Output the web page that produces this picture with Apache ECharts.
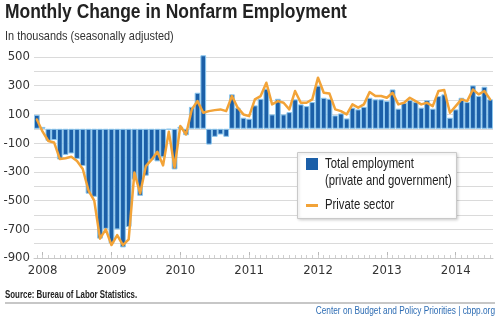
<!DOCTYPE html>
<html>
<head>
<meta charset="utf-8">
<script src="https://cdn.jsdelivr.net/npm/echarts@6/dist/echarts.min.js"></script>
<style>
  html, body { margin: 0; padding: 0; background: #fff; }
  #chart { width: 500px; height: 322px; }
</style>
</head>
<body>
<div id="chart"></div>
<script>
// Monthly change in nonfarm payrolls, thousands, seasonally adjusted (Dec 2007 - Jul 2014)
const firstYear = 2007;
const firstMonth = 12;

const totalEmployment = [
  97,
  13, -84, -79, -214, -182, -172, -210, -259, -452, -474, -765, -697,
  -798, -701, -826, -684, -354, -467, -327, -216, -227, -198, -6, -283,
  15, -45, 153, 251, 512, -110, -56, -40, -56, 240, 147, 77,
  70, 163, 209, 279, 100, 209, 100, 116, 205, 170, 158, 186,
  300, 216, 209, 93, 107, 72, 147, 135, 153, 216, 205, 205,
  193, 274, 140, 181, 200, 186, 147, 200, 140, 228, 240, 77,
  135, 216, 186, 302, 228, 293, 205
];

const privateSector = [
  65,
  -20, -85, -95, -210, -205, -195, -225, -280, -430, -500, -765, -700,
  -810, -740, -810, -770, -305, -450, -260, -215, -160, -255, -20, -270,
  19, -40, 135, 193, 112, 123, 130, 135, 123, 228, 147, 100,
  88, 205, 228, 321, 170, 193, 181, 135, 263, 181, 181, 205,
  356, 251, 245, 135, 123, 100, 170, 147, 170, 256, 228, 228,
  216, 251, 170, 181, 216, 193, 170, 181, 158, 263, 270, 112,
  158, 205, 193, 274, 240, 263, 205
];

const yTicks = { min: -900, max: 500, step: 100 };

// month categories "YYYY-MM" matching the value arrays
const months = totalEmployment.map((_, k) => {
  const m0 = firstMonth - 1 + k;
  const y = firstYear + Math.floor(m0 / 12);
  const m = (m0 % 12) + 1;
  return y + '-' + String(m).padStart(2, '0');
});

const AXIS_FONT = "'Liberation Sans Narrow','DejaVu Sans Condensed',sans-serif";
const TEXT_FONT = "'Liberation Sans',Arial,sans-serif";
const BAR_BLUE = '#1b5fa8';
const LINE_ORANGE = '#f2a338';
const isJanuary = (i, v) => String(v).endsWith('-01');

// narrow text helper: regular sans face squeezed horizontally
function narrowText(x, y, text, font, sx, extra) {
  return Object.assign({
    type: 'text', x: x, y: y, scaleX: sx, scaleY: 1,
    style: Object.assign({ text: text, font: font, fill: '#222' }, (extra && extra.style) || {})
  }, extra && extra.z ? { z: extra.z } : {});
}

const chart = echarts.init(document.getElementById('chart'), null, { renderer: 'canvas' });

chart.setOption({
  animation: false,
  backgroundColor: '#fff',
  grid: { left: 34, right: 7, top: 57, bottom: 64, containLabel: false },
  xAxis: [
    {
      type: 'category',
      data: months,
      position: 'bottom',
      boundaryGap: true,
      axisLine: { onZero: false, lineStyle: { color: '#c8c8c8', width: 1 } },
      axisTick: { show: true, inside: true, alignWithLabel: true, length: 6,
                  interval: isJanuary, lineStyle: { color: '#b8b8b8' } },
      axisLabel: { interval: isJanuary, formatter: v => v.slice(0, 4), margin: 6,
                   fontFamily: AXIS_FONT, fontSize: 13, color: '#333' },
      splitLine: { show: false }
    },
    {
      type: 'category',
      data: months,
      position: 'bottom',
      boundaryGap: true,
      axisLine: { show: false, onZero: false },
      axisTick: { show: true, inside: true, alignWithLabel: true, length: 3,
                  interval: 0, lineStyle: { color: '#cfcfcf' } },
      axisLabel: { show: false },
      splitLine: { show: false }
    }
  ],
  yAxis: {
    type: 'value',
    min: yTicks.min,
    max: yTicks.max,
    interval: yTicks.step,
    axisLine: { show: false },
    axisTick: { show: false },
    axisLabel: {
      margin: 4,
      fontFamily: AXIS_FONT, fontSize: 13, color: '#333',
      formatter: v => (Math.abs(v / 100) % 2 === 1 ? String(v) : '')
    },
    splitLine: { lineStyle: { color: '#dadada', width: 1 } }
  },
  series: [
    {
      name: 'Total employment (private and government)',
      type: 'bar',
      data: totalEmployment,
      xAxisIndex: 0,
      barCategoryGap: '0%',
      clip: false,
      itemStyle: { color: BAR_BLUE, borderColor: '#8cc7ee', borderWidth: 1 },
      z: 2
    },
    {
      name: 'Private sector',
      type: 'line',
      data: privateSector,
      xAxisIndex: 0,
      symbol: 'none',
      clip: false,
      lineStyle: { color: LINE_ORANGE, width: 2.5, join: 'round', cap: 'round' },
      z: 3
    }
  ],
  graphic: [
    narrowText(5, 2, 'Monthly Change in Nonfarm Employment', 'bold 21px ' + TEXT_FONT, 0.83),
    narrowText(5, 30, 'In thousands (seasonally adjusted)', '13px ' + TEXT_FONT, 0.84,
               { style: { fill: '#333' } }),
    // legend box
    { type: 'rect', shape: { x: 297.5, y: 152.5, width: 159, height: 66 },
      style: { fill: '#fff', stroke: '#c9c9c9', lineWidth: 1,
               shadowBlur: 3, shadowOffsetX: 1, shadowOffsetY: 1, shadowColor: 'rgba(0,0,0,0.18)' },
      z: 10 },
    { type: 'rect', shape: { x: 306, y: 158, width: 12, height: 12 },
      style: { fill: BAR_BLUE }, z: 11 },
    narrowText(325, 164, 'Total employment', '14px ' + TEXT_FONT, 0.81,
               { style: { verticalAlign: 'middle' }, z: 11 }),
    narrowText(325, 181, '(private and government)', '14px ' + TEXT_FONT, 0.81,
               { style: { verticalAlign: 'middle' }, z: 11 }),
    { type: 'line', shape: { x1: 306, y1: 205.5, x2: 318, y2: 205.5 },
      style: { stroke: LINE_ORANGE, lineWidth: 3 }, z: 11 },
    narrowText(325, 205, 'Private sector', '14px ' + TEXT_FONT, 0.81,
               { style: { verticalAlign: 'middle' }, z: 11 }),
    // footer
    narrowText(5, 295, 'Source: Bureau of Labor Statistics.', 'bold 10px ' + TEXT_FONT, 0.79,
               { style: { verticalAlign: 'middle' } }),
    { type: 'line', shape: { x1: 5, y1: 303, x2: 495, y2: 303 },
      style: { stroke: '#b5b5b5', lineWidth: 1.5 } },
    narrowText(495, 311, 'Center on Budget and Policy Priorities | cbpp.org', '10px ' + TEXT_FONT, 0.83,
               { style: { fill: '#2e6db4', align: 'right', verticalAlign: 'middle' } })
  ]
});
</script>
</body>
</html>
